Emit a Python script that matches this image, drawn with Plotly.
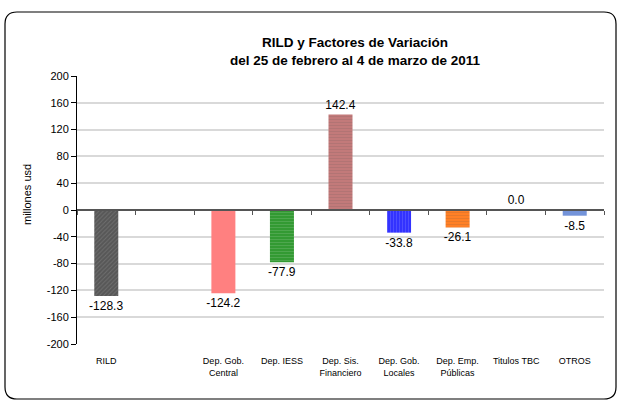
import plotly.graph_objects as go

categories = ["RILD", " ", "Dep. Gob.<br>Central", "Dep. IESS", "Dep. Sis.<br>Financiero",
              "Dep. Gob.<br>Locales", "Dep. Emp.<br>Públicas", "Titulos TBC", "OTROS"]
values = [-128.3, None, -124.2, -77.9, 142.4, -33.8, -26.1, 0.0, -8.5]
labels = ["-128.3", "", "-124.2", "-77.9", "142.4", "-33.8", "-26.1", "0.0", "-8.5"]
colors = ["#575757", "#FFFFFF", "#FF8080", "#339A33", "#C27A7A", "#3333FF", "#FF8026", "#FFFFFF", "#7393D9"]
patterns = ["/", "", "", "-", "-", "|", "-", "", ""]
pattern_fg = ["#3f3f3f", "#FFFFFF", "#FF7777", "#267a26", "#a86464", "#2222d0", "#e06a18", "#FFFFFF", "#7393D9"]
yticks = [200, 160, 120, 80, 40, 0, -40, -80, -120, -160, -200]

W, H = 621, 405
L, R, T, B = 77, 17, 76, 61
pw, ph = W - L - R, H - T - B

def px(x):
    return (x - L) / pw

def py(y):
    return (H - B - y) / ph

fig = go.Figure()
fig.add_trace(go.Bar(
    x=categories, y=values, text=labels, textposition="outside", constraintext="none",
    textfont=dict(size=12, color="#000000", family="Liberation Sans, Arial"),
    marker=dict(color=colors, line=dict(width=0),
                pattern=dict(shape=patterns, fgcolor=pattern_fg, size=3, solidity=0.3,
                             fgopacity=0.15)),
    width=0.41, cliponaxis=False, showlegend=False,
))
fig.add_trace(go.Scatter(x=categories, y=[None] * len(categories), xaxis="x2",
                         showlegend=False, hoverinfo="skip"))

fig.update_layout(
    width=W, height=H,
    margin=dict(l=L, r=R, t=T, b=B, autoexpand=False),
    paper_bgcolor="white", plot_bgcolor="white",
    font=dict(family="Liberation Sans, Arial", color="#000000"),
    title=dict(text="<b>RILD y Factores de Variación<br>del 25 de febrero al 4 de marzo de 2011</b>",
               x=355 / W, xanchor="center", y=1 - 47 / H, yanchor="middle",
               font=dict(size=13.5)),
    xaxis=dict(type="category", categoryorder="array", categoryarray=categories,
               range=[-0.5, len(categories) - 0.5], automargin=False,
               showline=False, ticks="", showgrid=False, zeroline=False,
               tickfont=dict(size=9, family="Liberation Sans Narrow, Liberation Sans, Arial"),
               ticklabelstandoff=10),
    xaxis2=dict(type="category", categoryorder="array", categoryarray=categories,
                range=[-0.5, len(categories) - 0.5], overlaying="x", anchor="free",
                position=0.5, showline=True, linecolor="#555555", linewidth=1.5,
                ticks="outside", tickson="boundaries", ticklen=4, tickcolor="#555555",
                showticklabels=False, showgrid=False, zeroline=False, automargin=False),
    yaxis=dict(range=[-200, 200], tickvals=yticks, ticktext=[str(v) for v in yticks],
               showgrid=True, gridcolor="#D9D9D9", gridwidth=1.5, automargin=False,
               showline=True, linecolor="#000000", linewidth=1,
               ticks="outside", ticklen=5, tickcolor="#000000",
               zeroline=False, tickfont=dict(size=11)),
    bargap=0.59,
)

fig.add_annotation(text="millones usd", xref="paper", yref="paper",
                   x=px(27), y=py(195), xanchor="center", yanchor="middle",
                   textangle=-90, showarrow=False, font=dict(size=11))

# rounded border
x0, x1, y0, y1, r = 5, 616, 12, 399, 12
pts = (f"M {px(x0 + r)} {py(y0)} L {px(x1 - r)} {py(y0)} "
       f"Q {px(x1)} {py(y0)} {px(x1)} {py(y0 + r)} L {px(x1)} {py(y1 - r)} "
       f"Q {px(x1)} {py(y1)} {px(x1 - r)} {py(y1)} L {px(x0 + r)} {py(y1)} "
       f"Q {px(x0)} {py(y1)} {px(x0)} {py(y1 - r)} L {px(x0)} {py(y0 + r)} "
       f"Q {px(x0)} {py(y0)} {px(x0 + r)} {py(y0)} Z")
fig.add_shape(type="path", path=pts, xref="paper", yref="paper",
              line=dict(color="#000000", width=1.2), layer="below")

fig.write_html("out.html", config={"displayModeBar": False},
               post_script="document.body.style.margin='0';document.body.style.overflow='hidden';")
